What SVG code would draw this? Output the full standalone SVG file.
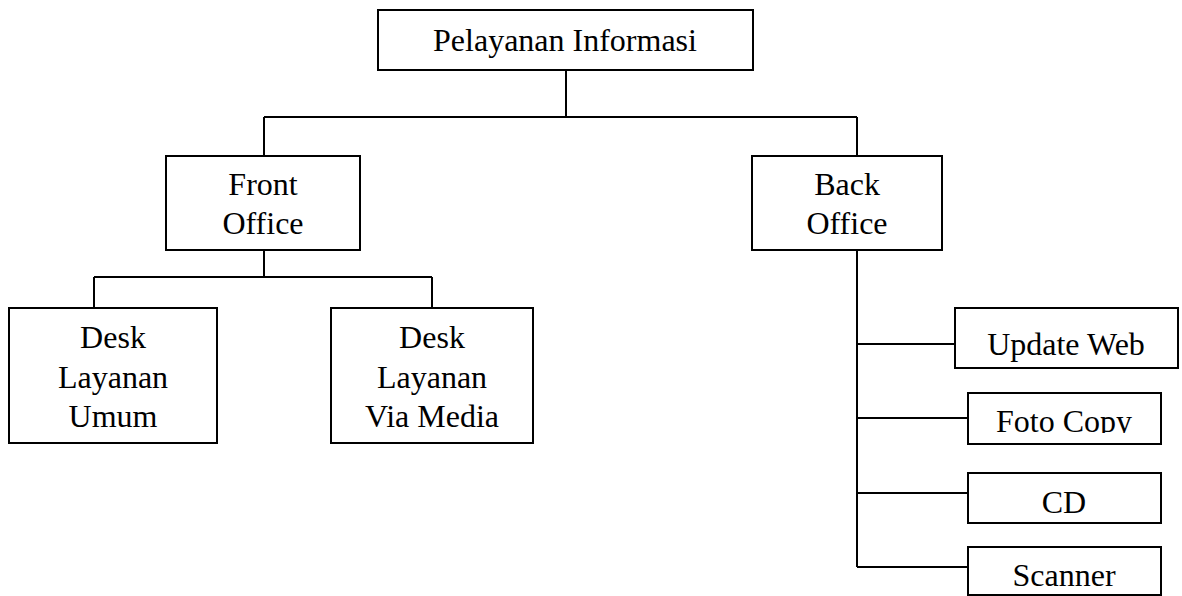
<svg xmlns="http://www.w3.org/2000/svg" width="1182" height="596" viewBox="0 0 1182 596">
<style>
.box{fill:#fff;stroke:#000;stroke-width:2}
.ln{fill:none;stroke:#000;stroke-width:2}
text{font-family:"Liberation Serif","Times New Roman",serif;font-size:32px;fill:#000;text-anchor:middle}
</style>
<defs>
<clipPath id="fcClip"><rect x="968" y="393" width="194" height="40"/></clipPath>
</defs>
<g id="connectors">
<path class="ln" d="M566 70V117M264 117H857M264 117V156M857 117V156"/>
<path class="ln" d="M264 250V277M94 277H432M94 277V308M432 277V308"/>
<path class="ln" d="M857 250V567M857 344H955M857 418H968M857 493H968M857 567H968"/>
</g>
<g id="n-pelayanan"><rect class="box" x="378" y="10" width="375" height="60"/><text x="565" y="51">Pelayanan Informasi</text></g>
<g id="n-front"><rect class="box" x="166" y="156" width="194" height="94"/><text x="263" y="195">Front</text><text x="263" y="234">Office</text></g>
<g id="n-back"><rect class="box" x="752" y="156" width="190" height="94"/><text x="847" y="195">Back</text><text x="847" y="234">Office</text></g>
<g id="n-umum"><rect class="box" x="9" y="308" width="208" height="135"/><text x="113" y="348">Desk</text><text x="113" y="388">Layanan</text><text x="113" y="427">Umum</text></g>
<g id="n-media"><rect class="box" x="331" y="308" width="202" height="135"/><text x="432" y="348">Desk</text><text x="432" y="388">Layanan</text><text x="432" y="427">Via Media</text></g>
<g id="n-update"><rect class="box" x="955" y="308" width="223" height="60"/><text x="1066" y="355">Update Web</text></g>
<g id="n-foto"><rect class="box" x="968" y="393" width="193" height="51"/><text x="1064" y="432" clip-path="url(#fcClip)">Foto Copy</text></g>
<g id="n-cd"><rect class="box" x="968" y="473" width="193" height="50"/><text x="1064" y="513">CD</text></g>
<g id="n-scanner"><rect class="box" x="968" y="547" width="193" height="48"/><text x="1064" y="586">Scanner</text></g>
</svg>
